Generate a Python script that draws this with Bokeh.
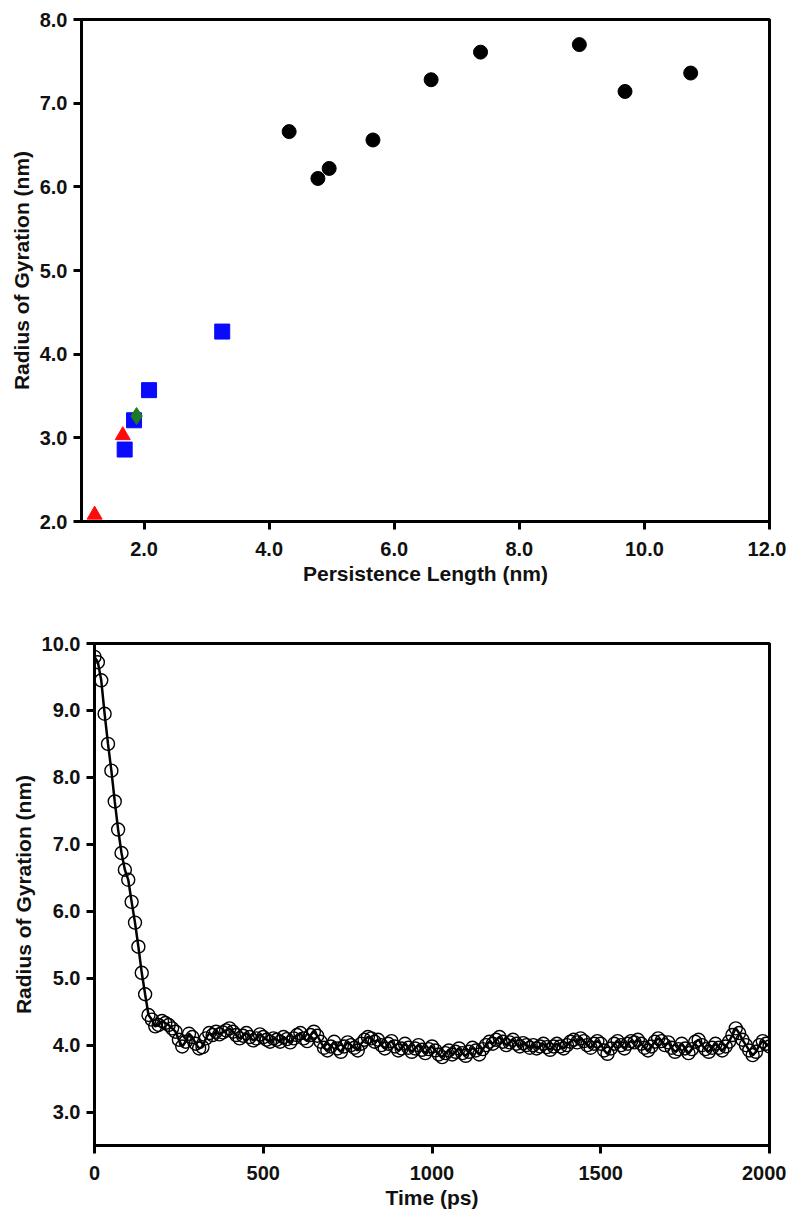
from bokeh.plotting import figure
from bokeh.models import Range1d, FixedTicker, NumeralTickFormatter
from bokeh.embed import file_html
from bokeh.resources import INLINE

# ---- Top panel data: persistence length vs radius of gyration ----
circle_x = [4.32, 4.78, 4.96, 5.66, 6.59, 7.38, 8.96, 9.69, 10.74]
circle_y = [6.66, 6.10, 6.22, 6.56, 7.28, 7.61, 7.70, 7.14, 7.36]
square_x = [1.69, 1.84, 2.08, 3.25]
square_y = [2.86, 3.21, 3.57, 4.27]
triangle_x = [1.21, 1.66]
triangle_y = [2.08, 3.03]
diamond_x = [1.88]
diamond_y = [3.26]

top_xticks = [2, 4, 6, 8, 10, 12]
top_yticks = [2, 3, 4, 5, 6, 7, 8]

# ---- Bottom panel data: radius of gyration vs time ----
time_ps = list(range(0, 2001, 10))
rg_nm = [
    9.80, 9.72, 9.45, 8.95, 8.50, 8.10, 7.64, 7.22, 6.87, 6.62,
    6.47, 6.14, 5.83, 5.47, 5.08, 4.76, 4.45, 4.38, 4.28, 4.30,
    4.36, 4.33, 4.30, 4.25, 4.20, 4.08, 3.98, 4.05, 4.17, 4.12,
    4.02, 3.95, 3.97, 4.10, 4.18, 4.15, 4.20, 4.16, 4.19, 4.22,
    4.25, 4.20, 4.15, 4.10, 4.14, 4.18, 4.12, 4.07, 4.10, 4.16,
    4.12, 4.08, 4.05, 4.10, 4.08, 4.05, 4.12, 4.09, 4.04, 4.10,
    4.15, 4.18, 4.10, 4.06, 4.15, 4.20, 4.14, 4.05, 3.96, 3.92,
    3.98, 4.05, 3.95, 3.90, 3.98, 4.04, 4.00, 3.96, 3.92, 4.02,
    4.08, 4.12, 4.10, 4.05, 4.08, 4.00, 3.95, 4.02, 4.06, 3.98,
    3.92, 3.95, 4.02, 3.96, 3.90, 3.95, 4.00, 3.93, 3.88, 3.94,
    3.98, 3.92, 3.86, 3.82, 3.88, 3.92, 3.86, 3.90, 3.95, 3.88,
    3.84, 3.90, 3.96, 3.92, 3.86, 3.94, 4.00, 4.05, 4.02, 4.08,
    4.12, 4.05, 4.00, 4.04, 4.08, 4.02, 3.98, 4.03, 4.00, 3.96,
    4.00, 3.95, 3.98, 4.02, 3.97, 3.93, 3.98, 4.02, 3.98, 3.95,
    4.00, 4.05, 4.08, 4.04, 4.10, 4.06, 4.00, 3.96, 4.02, 4.06,
    4.02, 3.92, 3.87, 3.95, 4.02, 4.06, 4.00, 3.95, 4.02, 4.06,
    4.04, 4.08, 4.02, 3.96, 3.92, 3.98, 4.05, 4.10, 4.06, 4.00,
    4.04, 3.96, 3.90, 3.94, 4.02, 3.95, 3.88, 3.94, 4.05, 4.08,
    4.00, 3.94, 3.90, 3.96, 4.02, 3.96, 3.92, 3.98, 4.05, 4.15,
    4.25, 4.18, 4.08, 4.00, 3.92, 3.85, 3.90, 4.00, 4.06, 4.02,
    3.98,
]
bottom_xticks = [0, 500, 1000, 1500, 2000]
bottom_yticks = [3, 4, 5, 6, 7, 8, 9, 10]

FONT = "Liberation Sans"


def style(p):
    p.outline_line_color = "black"
    p.outline_line_width = 3
    p.grid.visible = False
    p.background_fill_color = "white"
    p.border_fill_color = "white"
    for ax in (p.xaxis[0], p.yaxis[0]):
        ax.axis_line_width = 3
        ax.axis_line_color = "black"
        ax.major_tick_line_width = 3
        ax.major_tick_out = 8
        ax.major_tick_in = 0
        ax.minor_tick_line_color = None
        ax.major_label_text_font = FONT
        ax.major_label_text_font_style = "bold"
        ax.major_label_text_font_size = "20px"
        ax.major_label_text_color = "#111111"
        ax.axis_label_text_font = FONT
        ax.axis_label_text_font_style = "bold"
        ax.axis_label_text_font_size = "21px"
        ax.axis_label_text_color = "#111111"
    p.xaxis[0].major_label_standoff = 12
    p.yaxis[0].major_label_standoff = 6
    p.xaxis[0].axis_label_standoff = 3
    p.yaxis[0].axis_label_standoff = 4


# ---------------- top figure ----------------
p1 = figure(width=786, height=600, output_backend="svg", toolbar_location=None,
            x_range=Range1d(1.0, 12.0), y_range=Range1d(2.0, 8.0),
            min_border_left=81, min_border_right=17, min_border_top=19,
            min_border_bottom=79)
style(p1)
p1.xaxis[0].ticker = FixedTicker(ticks=top_xticks)
p1.yaxis[0].ticker = FixedTicker(ticks=top_yticks)
p1.xaxis[0].formatter = NumeralTickFormatter(format="0.0")
p1.yaxis[0].formatter = NumeralTickFormatter(format="0.0")
p1.xaxis[0].axis_label = "Persistence Length (nm)"
p1.yaxis[0].axis_label = "Radius of Gyration (nm)"

p1.scatter(circle_x, circle_y, marker="circle", size=14,
           fill_color="black", line_color="black")
p1.scatter(square_x, square_y, marker="square", size=15,
           fill_color="#0a0aff", line_color="#0a0aff")
p1.scatter(triangle_x, triangle_y, marker="triangle", size=15,
           fill_color="#ff0a0a", line_color="#ff0a0a")
p1.scatter(diamond_x, diamond_y, marker="diamond", size=17,
           fill_color="#1f7a1f", line_color="#1f7a1f")

# ---------------- bottom figure ----------------
p2 = figure(width=786, height=617, output_backend="svg", toolbar_location=None,
            x_range=Range1d(0, 2000), y_range=Range1d(2.5, 10.0),
            min_border_left=94, min_border_right=17, min_border_top=43,
            min_border_bottom=72)
style(p2)
p2.xaxis[0].ticker = FixedTicker(ticks=bottom_xticks)
p2.yaxis[0].ticker = FixedTicker(ticks=bottom_yticks)
p2.xaxis[0].formatter = NumeralTickFormatter(format="0")
p2.yaxis[0].formatter = NumeralTickFormatter(format="0.0")
p2.xaxis[0].axis_label = "Time (ps)"
p2.yaxis[0].axis_label = "Radius of Gyration (nm)"

p2.line(time_ps, rg_nm, line_color="black", line_width=2.5)
p2.scatter(time_ps, rg_nm, marker="circle", size=13, fill_color=None,
           line_color="black", line_width=1.4)

open("out.html", "w").write(file_html([p1, p2], INLINE))
